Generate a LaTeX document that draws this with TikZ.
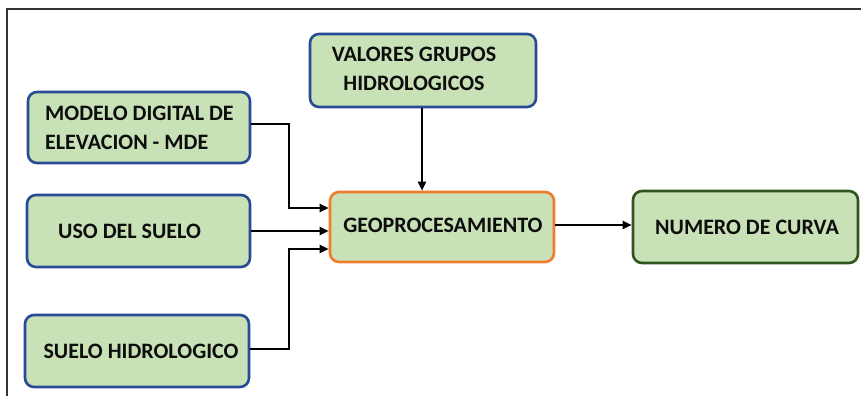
\documentclass[tikz,border=0pt]{standalone}
\usepackage{fontspec}
\setmainfont{Carlito}
\usetikzlibrary{arrows.meta}
\definecolor{boxfill}{RGB}{200,225,182}
\definecolor{bluebd}{RGB}{40,75,150}
\definecolor{orangebd}{RGB}{240,125,45}
\definecolor{greenbd}{RGB}{50,85,30}
\tikzset{
  box/.style={draw, line width=2.6pt, rounded corners=9pt, fill=boxfill, inner sep=0pt},
  inbox/.style={box, draw=bluebd},
  lbl/.style={font=\fontsize{22}{29}\selectfont\bfseries, inner sep=0pt, text=black!95},
  conn/.style={line width=2pt, -{Triangle[length=9pt,width=8pt]}},
  frame/.style={line width=1.5pt, black!80}
}
\begin{document}
\begin{tikzpicture}[x=1pt,y=-1pt]
\useasboundingbox (0,0) rectangle (861,396);
\draw[frame] (7,396) -- (7,9) -- (861,9);
% boxes
\node[inbox, minimum width=222pt, minimum height=71pt] (mde) at (139,127.5) {};
\node[inbox, minimum width=223pt, minimum height=72pt] (uso) at (138.5,231) {};
\node[inbox, minimum width=224pt, minimum height=72pt] (hid) at (137,351) {};
\node[inbox, minimum width=226pt, minimum height=73pt] (val) at (423,70.5) {};
\node[box, draw=orangebd, minimum width=224pt, minimum height=70pt] (geo) at (442,227) {};
\node[box, draw=greenbd, minimum width=225pt, minimum height=72pt] (num) at (745.5,227) {};
% labels
\node[lbl, align=left, anchor=west] (tmde) at (45,128) {MODELO DIGITAL DE\\ELEVACION - MDE};
\node[lbl, anchor=west] (tuso) at (58,231) {USO DEL SUELO};
\node[lbl] (thid) at (141,351) {SUELO HIDROLOGICO};
\node[lbl, align=center] (tval) at (414,69) {VALORES GRUPOS\\HIDROLOGICOS};
\node[lbl] (tgeo) at (443,225) {GEOPROCESAMIENTO};
\node[lbl] (tnum) at (747,227) {NUMERO DE CURVA};
% connectors
\draw[conn] (mde.east |- 0,124) -- (289,124) -- (289,208) -- (geo.west |- 0,208);
\draw[conn] (uso.east |- 0,231) -- (geo.west |- 0,231);
\draw[conn] (hid.east |- 0,349) -- (289,349) -- (289,249) -- (geo.west |- 0,249);
\draw[conn] (val.south -| 422,0) -- (geo.north -| 422,0);
\draw[conn] (geo.east |- 0,225) -- (num.west |- 0,225);
\end{tikzpicture}
\end{document}
